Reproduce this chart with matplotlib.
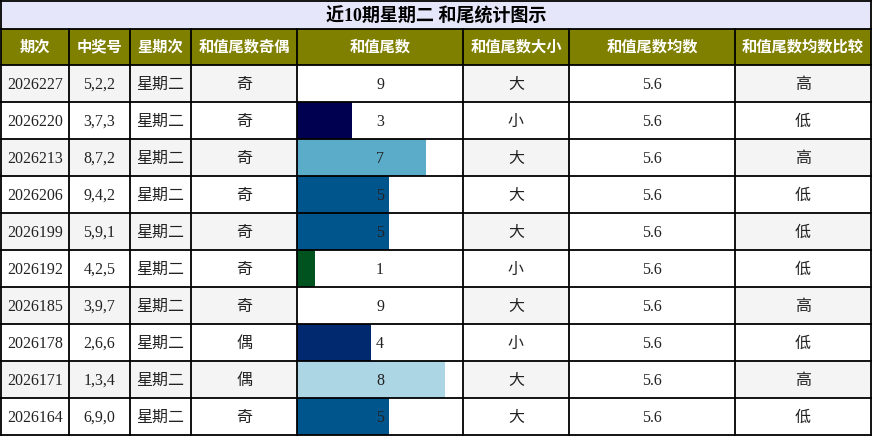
import matplotlib
matplotlib.use("Agg")
import matplotlib.pyplot as plt
from matplotlib.patches import Rectangle

plt.rcParams['font.family'] = ['Liberation Serif', 'Noto Sans CJK SC', 'DejaVu Sans']

# === Données ===
title = "近10期星期二 和尾统计图示"
headers = ["期次", "中奖号", "星期次", "和值尾数奇偶", "和值尾数", "和值尾数大小", "和值尾数均数", "和值尾数均数比较"]
periods = ["2026227", "2026220", "2026213", "2026206", "2026199", "2026192", "2026185", "2026178", "2026171", "2026164"]
numbers = ["5,2,2", "3,7,3", "8,7,2", "9,4,2", "5,9,1", "4,2,5", "3,9,7", "2,6,6", "1,3,4", "6,9,0"]
weekday = ["星期二"] * 10
parity = ["奇", "奇", "奇", "奇", "奇", "奇", "奇", "偶", "偶", "奇"]
tails = [9, 3, 7, 5, 5, 1, 9, 4, 8, 5]
size = ["大", "小", "大", "大", "大", "小", "大", "小", "大", "大"]
avg = [5.6] * 10
compare = ["高", "低", "高", "低", "低", "低", "高", "低", "高", "低"]

# couleur de barre par valeur
bar_colors = {9: "#ffffff", 3: "#000050", 7: "#5aacc8", 5: "#00568c",
              1: "#00531f", 4: "#002970", 8: "#acd6e4"}

# === Mise en page (pixels) ===
W, H = 872, 436
col_x = [1, 69, 130, 191, 297, 463, 569, 735, 871]
TITLE_TOP, TITLE_BOT = 1, 29
HEAD_BOT = 65
ROW_H = 37
BAR_COL = 4

fig = plt.figure(figsize=(W / 100, H / 100), dpi=100)
ax = fig.add_axes([0, 0, 1, 1])
ax.set_xlim(0, W)
ax.set_ylim(H, 0)
ax.axis("off")
ax.set_zorder(2)
ax.patch.set_visible(False)

# titre
ax.add_patch(Rectangle((col_x[0], TITLE_TOP), col_x[-1] - col_x[0], TITLE_BOT - TITLE_TOP,
                       facecolor="#e6e6fa", edgecolor="none", zorder=0))
ax.text(W / 2, (TITLE_TOP + TITLE_BOT) / 2 + 1, title, ha="center", va="center",
        fontsize=13, fontweight="bold", color="black")

# en-têtes
ax.add_patch(Rectangle((col_x[0], TITLE_BOT), col_x[-1] - col_x[0], HEAD_BOT - TITLE_BOT,
                       facecolor="#808000", edgecolor="none", zorder=0))
for i, h in enumerate(headers):
    ax.text((col_x[i] + col_x[i + 1]) / 2, (TITLE_BOT + HEAD_BOT) / 2 + 0.5, h,
            ha="center", va="center", fontsize=11, fontweight="bold", color="white")

columns = [periods, numbers, weekday, parity, tails, size, avg, compare]
n = len(periods)
for r in range(n):
    y0 = HEAD_BOT + r * ROW_H
    for c, col in enumerate(columns):
        if r % 2 == 0 and c not in (BAR_COL, 6):
            ax.add_patch(Rectangle((col_x[c], y0), col_x[c + 1] - col_x[c], ROW_H,
                                   facecolor="#f4f4f4", edgecolor="none", zorder=0))
        ax.text((col_x[c] + col_x[c + 1]) / 2, y0 + ROW_H / 2 + 1.5, str(col[r]),
                ha="center", va="center", fontsize=11.5, color="#222222", zorder=3)

# barres de "和值尾数"
bax = fig.add_axes([col_x[BAR_COL] / W, 1 - (HEAD_BOT + n * ROW_H) / H,
                    (col_x[BAR_COL + 1] - col_x[BAR_COL]) / W, n * ROW_H / H])
bax.set_zorder(1)
bax.set_xlim(0, max(tails))
bax.set_ylim(n - 0.5, -0.5)
bax.barh(range(n), tails, height=1.0, color=[bar_colors[v] for v in tails])
bax.axis("off")

# bordures
lw = 1.3
for x in col_x:
    ax.plot([x, x], [TITLE_BOT, HEAD_BOT + n * ROW_H], color="black", lw=lw, zorder=4)
for x in (col_x[0], col_x[-1]):
    ax.plot([x, x], [TITLE_TOP, TITLE_BOT], color="black", lw=lw, zorder=4)
for y in [TITLE_TOP, TITLE_BOT, HEAD_BOT] + [HEAD_BOT + r * ROW_H for r in range(1, n + 1)]:
    ax.plot([col_x[0], col_x[-1]], [y, y], color="black", lw=lw, zorder=4)

fig.savefig("out.png", dpi=100)
